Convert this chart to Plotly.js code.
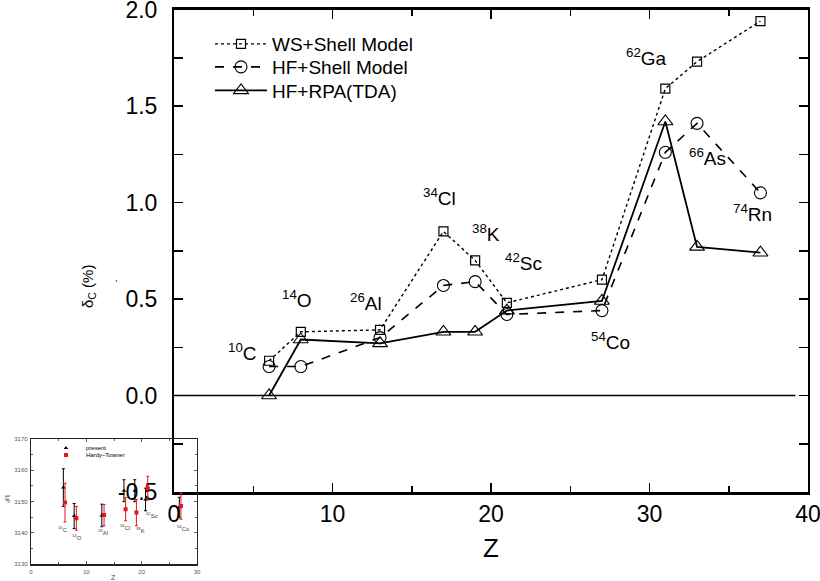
<!DOCTYPE html>
<html>
<head>
<meta charset="utf-8">
<script src="https://cdn.plot.ly/plotly-3.0.1.min.js"></script>
<style>html,body{margin:0;padding:0;background:#fff;}#chart{width:820px;height:581px;}</style>
</head>
<body>
<div id="chart"></div>
<script>
// ---- main chart data ----
const Z = [6, 8, 13, 17, 19, 21, 27, 31, 33, 37];
const wsShell  = [0.18, 0.33, 0.34, 0.85, 0.70, 0.48, 0.60, 1.59, 1.73, 1.94];
const hfShell  = [0.15, 0.15, 0.30, 0.57, 0.59, 0.42, 0.44, 1.26, 1.41, 1.05];
const hfRPA    = [0.00, 0.29, 0.27, 0.33, 0.33, 0.44, 0.49, 1.42, 0.77, 0.74];
const seriesNames = ['WS+Shell Model', 'HF+Shell Model', 'HF+RPA(TDA)'];
const nuclideMass = ['10', '14', '26', '34', '38', '42', '54', '62', '66', '74'];
const nuclideSym  = ['C', 'O', 'Al', 'Cl', 'K', 'Sc', 'Co', 'Ga', 'As', 'Rn'];
const yTickVals = [-0.5, 0, 0.5, 1.0, 1.5, 2.0];
const yTickText = ['-0.5', '0.0', '0.5', '1.0', '1.5', '2.0'];
const xTickVals = [0, 10, 20, 30, 40];

// ---- inset data ----
const insetNames = ['present', 'Hardy\u2013Towner'];
const presentZ   = [5.85, 7.8, 12.8, 16.8, 18.75, 20.7, 26.8];
const presentFt  = [3154.5, 3145.4, 3145.6, 3153.5, 3153.5, 3150.7, 3148.2];
const presentErr = [6.0, 4.0, 3.6, 3.5, 3.5, 3.6, 3.2];
const htZ   = [6.15, 8.2, 13.2, 17.1, 19.05, 21.1, 27.1];
const htFt  = [3149.7, 3144.7, 3145.7, 3147.6, 3146.5, 3154.3, 3148.6];
const htErr = [6.2, 3.8, 3.4, 3.7, 4.2, 3.8, 4.2];
const insetMass = ['10', '14', '26', '34', '38', '42', '54'];
const insetSym  = ['C', 'O', 'Al', 'Cl', 'K', 'Sc', 'Co'];

// ---- label placement (layout, not data) ----
const labelPos = [[4.35,0.225],[7.76,0.50],[12.11,0.484],[16.72,1.028],[19.68,0.842],
                  [22.02,0.692],[27.51,0.28],[29.84,1.754],[33.63,1.235],[36.47,0.946]];
const insetLabelPos = [[5.8,3141.3],[8.3,3138.7],[13.0,3140.3],[17.0,3141.9],[19.7,3141.0],
                       [21.9,3145.8],[27.5,3141.6]];

const FONT = 'Liberation Sans, Arial, Helvetica, sans-serif';
const W = 820, H = 581;
const px = v => v / W, py = v => 1 - v / H;

const traces = [
  {x: Z, y: wsShell, name: seriesNames[0], mode: 'lines+markers', legend: 'legend',
   line: {color: '#000', dash: 'dot', width: 1.4},
   marker: {symbol: 'square-open', size: 9, color: '#000', line: {width: 1.2}}},
  {x: Z, y: hfShell, name: seriesNames[1], mode: 'lines+markers', legend: 'legend2',
   line: {color: '#000', dash: 'dash', width: 1.6},
   marker: {symbol: 'circle-open', size: 12, color: '#000', line: {width: 1.1}}},
  {x: Z, y: hfRPA, name: seriesNames[2], mode: 'lines+markers', legend: 'legend3',
   line: {color: '#000', width: 1.8},
   marker: {symbol: 'triangle-up-open', size: 13, color: '#000', line: {width: 1.1}}},
  {x: presentZ, y: presentFt, name: insetNames[0], xaxis: 'x2', yaxis: 'y2', legend: 'legend4',
   mode: 'markers', marker: {symbol: 'triangle-up', size: 4, color: '#000'},
   error_y: {type: 'data', array: presentErr, color: '#000', thickness: 1, width: 1.5}},
  {x: htZ, y: htFt, name: insetNames[1], xaxis: 'x2', yaxis: 'y2', legend: 'legend5',
   mode: 'markers', marker: {symbol: 'square', size: 4, color: '#e8141b'},
   error_y: {type: 'data', array: htErr, color: '#e8141b', thickness: 1, width: 1.5}}
];

const annotations = [];
nuclideSym.forEach((s, i) => annotations.push({
  x: labelPos[i][0], y: labelPos[i][1], xref: 'x', yref: 'y', showarrow: false,
  xanchor: 'center', yanchor: 'middle',
  text: '<sup>' + nuclideMass[i] + '</sup>' + s, font: {family: FONT, size: 19, color: '#000'}
}));
insetSym.forEach((s, i) => annotations.push({
  x: insetLabelPos[i][0], y: insetLabelPos[i][1], xref: 'x2', yref: 'y2', showarrow: false,
  xanchor: 'center', yanchor: 'middle',
  text: '<sup>' + insetMass[i] + '</sup>' + s, font: {family: FONT, size: 6, color: '#444'}
}));
const paperNote = (x, y, text, size, color, angle) => annotations.push({
  x: px(x), y: py(y), xref: 'paper', yref: 'paper', showarrow: false,
  xanchor: 'center', yanchor: 'middle', textangle: angle || 0,
  text: text, font: {family: FONT, size: size, color: color}
});
paperNote(491, 548, 'Z', 26, '#000');
paperNote(89, 287, '\u03b4<sub>C</sub> (%)', 15, '#000', -90);
paperNote(117, 278, ',', 9, '#000');
paperNote(113, 577, 'Z', 7, '#444');
paperNote(7, 500, '\u2131t', 7, '#444', -90);

const legendBase = (x, y, size, iw) => ({
  x: px(x), y: py(y), xanchor: 'left', yanchor: 'middle',
  bgcolor: 'rgba(0,0,0,0)', borderwidth: 0, itemwidth: iw,
  font: {family: FONT, size: size, color: '#000'}
});

const layout = {
  width: W, height: H,
  margin: {l: 0, r: 0, t: 0, b: 0},
  paper_bgcolor: '#fff', plot_bgcolor: 'rgba(0,0,0,0)',
  font: {family: FONT, color: '#000'},
  showlegend: true,
  xaxis: {
    domain: [px(174), px(808)], range: [0, 40], anchor: 'y',
    tickmode: 'array', tickvals: xTickVals,
    ticks: 'inside', ticklen: 9, tickwidth: 1.5, tickcolor: '#000',
    minor: {dtick: 5, tick0: 0, ticks: 'inside', ticklen: 6, tickwidth: 1.5, tickcolor: '#000', showgrid: false},
    showline: true, linewidth: 2.5, linecolor: '#000', mirror: 'ticks',
    showgrid: false, zeroline: false, ticklabeloverflow: 'allow',
    tickfont: {family: FONT, size: 23, color: '#000'}, ticklabelstandoff: 0
  },
  yaxis: {
    domain: [py(492), py(9.5)], range: [-0.5, 2.0], anchor: 'x',
    tickmode: 'array', tickvals: yTickVals, ticktext: yTickText,
    ticks: 'inside', ticklen: 9, tickwidth: 1.5, tickcolor: '#000',
    minor: {dtick: 0.25, tick0: 0, ticks: 'inside', ticklen: 9, tickwidth: 1.5, tickcolor: '#000', showgrid: false},
    showline: true, linewidth: 2, linecolor: '#000', mirror: 'ticks',
    showgrid: false, zeroline: false, ticklabeloverflow: 'allow',
    tickfont: {family: FONT, size: 23, color: '#000'}, ticklabelstandoff: 10
  },
  xaxis2: {
    domain: [px(31), px(197)], range: [0, 30], anchor: 'y2',
    dtick: 10, ticks: 'inside', ticklen: 3, tickwidth: 0.8, tickcolor: '#333',
    minor: {dtick: 5, ticks: 'inside', ticklen: 2, tickcolor: '#333'},
    showline: true, linewidth: 1.2, linecolor: '#222', mirror: 'ticks',
    showgrid: false, zeroline: false, ticklabeloverflow: 'allow',
    tickfont: {family: FONT, size: 6, color: '#555'}, ticklabelstandoff: 1
  },
  yaxis2: {
    domain: [py(564.3), py(439)], range: [3130, 3170], anchor: 'x2',
    dtick: 10, ticks: 'inside', ticklen: 3, tickwidth: 0.8, tickcolor: '#333',
    minor: {dtick: 5, ticks: 'inside', ticklen: 2, tickcolor: '#333'},
    showline: true, linewidth: 1.2, linecolor: '#222', mirror: 'ticks',
    showgrid: false, zeroline: false, ticklabeloverflow: 'allow',
    tickfont: {family: FONT, size: 6, color: '#555'}, ticklabelstandoff: 1
  },
  legend:  legendBase(210, 44, 19, 52),
  legend2: legendBase(210, 67, 19, 52),
  legend3: legendBase(210, 90.5, 19, 52),
  legend4: legendBase(46, 448, 6, 30),
  legend5: legendBase(46, 455, 6, 30),
  shapes: [
    {type: 'line', xref: 'x', yref: 'y', x0: 0, x1: 39.2, y0: 0, y1: 0,
     line: {color: '#000', width: 1.5}}
  ],
  annotations: annotations
};

Plotly.newPlot('chart', traces, layout, {staticPlot: true, displayModeBar: false});
</script>
</body>
</html>
